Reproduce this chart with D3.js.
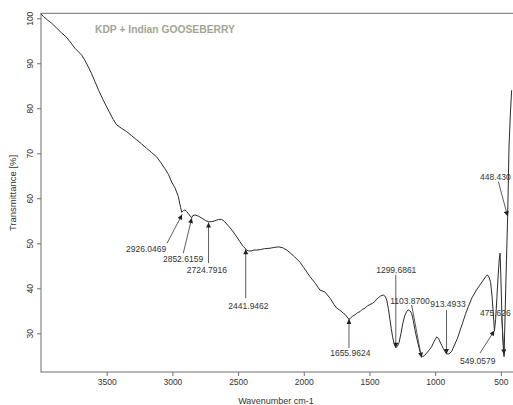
<!DOCTYPE html>
<html>
<head>
<meta charset="utf-8">
<script src="https://cdn.jsdelivr.net/npm/d3@7"></script>
<style>
body { margin: 0; background: #fff; }
svg { display: block; font-family: "Liberation Sans", Arial, sans-serif; }
</style>
</head>
<body>
<div id="chart"></div>
<script>
// spectrum: wavenumber (cm-1) and transmittance (%)
var wavenumber = [4000,3982,3950,3919,3880,3842,3810,3779,3741,3690,3665,3640,3615,3589,3560,3526,3500,3475,3450,3424,3390,3348,3310,3272,3235,3196,3160,3120,3090,3060,3030,3005,2980,2955,2937,2929,2915,2904,2890,2879,2861,2852,2846,2828,2800,2777,2750,2727,2700,2676,2650,2625,2605,2587,2560,2536,2510,2485,2460,2447,2435,2420,2400,2380,2358,2330,2300,2257,2220,2190,2160,2130,2105,2070,2029,2000,1953,1910,1877,1840,1800,1770,1750,1724,1700,1686,1670,1656,1645,1630,1610,1590,1572,1555,1534,1515,1496,1475,1458,1445,1433,1415,1395,1380,1369,1356,1344,1334,1324,1312,1300,1288,1275,1260,1247,1232,1217,1205,1192,1179,1166,1154,1140,1128,1114,1104,1095,1080,1065,1045,1027,1008,989,975,963,950,938,925,913,900,887,874,850,830,811,790,770,748,720,684,660,634,615,603,590,578,568,558,549,540,530,520,512,506,500,492,484,475.6,462,448.4,438,428,418];
var transmittance = [101.0,100.4,99.6,98.9,97.8,96.7,95.9,94.8,93.3,91.8,90.6,89.2,87.7,85.9,83.9,81.8,80.3,78.9,77.5,76.3,75.6,74.8,73.9,73.0,72.1,71.1,70.2,69.2,68.0,66.7,65.3,63.6,62.3,60.4,57.9,56.9,57.3,57.4,57.0,56.6,55.9,55.7,56.1,56.3,56.0,55.6,55.1,54.8,54.8,55.0,55.3,55.3,54.9,54.3,53.4,52.5,51.4,50.3,49.3,48.9,48.5,48.3,48.3,48.5,48.5,48.6,48.8,48.9,49.1,49.2,49.0,48.5,47.9,47.0,45.8,44.6,42.6,41.0,39.6,39.2,37.8,36.4,35.6,35.1,34.5,34.2,33.6,33.1,33.3,33.8,34.1,34.6,34.8,35.3,35.6,36.1,36.4,36.7,37.1,37.6,37.9,38.3,38.5,38.2,37.4,35.5,33.0,31.0,29.2,27.6,26.8,27.1,27.9,30.0,32.1,33.9,34.8,35.2,35.0,34.4,32.8,30.8,28.9,27.4,25.8,24.9,24.8,25.1,25.6,26.3,27.0,28.2,29.2,28.9,28.1,27.3,26.6,25.9,25.4,25.4,25.6,26.0,27.6,28.9,30.6,32.4,34.2,35.9,37.9,39.7,40.7,41.8,42.6,43.0,42.5,41.3,38.5,34.5,30.6,33.0,38.0,43.0,46.5,47.8,42.5,34.0,28.0,24.8,41.0,56.0,71.4,78.5,84.0];

// picked peaks: label, tip, where the text sits and where its pointer starts
var peakLabels = ["2926.0469","2852.6159","2724.7916","2441.9462","1655.9624","1299.6861","1103.8700","913.4933","549.0579","475.626","448.430"];
var peakWave   = [2926.05,2852.62,2724.79,2441.95,1655.96,1299.69,1103.87,913.49,549.06,475.63,448.43];
var peakTrans  = [56.4,55.6,54.6,48.7,33.2,26.8,24.6,25.4,30.6,25.3,56.0];
var labelWave  = [3200,2919,2737,2421,1646,1296,1192,902,676,659,659];
var labelTrans = [48.7,46.5,44.1,36.1,25.6,44.1,37.2,36.4,23.9,34.4,64.8];
var startWave  = [3041,2917,2724.79,2441.95,1655.96,1299.69,1179,913.49,659,494,519];
var startTrans = [50.0,47.8,45.6,37.8,26.7,43.0,36.3,35.2,25.6,33.7,63.7];

var xTicks = [3500,3000,2500,2000,1500,1000,500];
var yTicks = [30,40,50,60,70,80,90,100];

var width = 513, height = 405;
var plotLeft = 41, plotRight = 514, plotTop = 13.3, plotBottom = 372;

var svg = d3.select("#chart").append("svg")
    .attr("width", width)
    .attr("height", height);

var x = d3.scaleLinear().domain([4000, 400]).range([plotLeft, plotRight]);
var y = d3.scaleLinear().domain([21.4, 101.1]).range([plotBottom, plotTop]);

svg.append("defs").append("marker")
    .attr("id", "tip")
    .attr("viewBox", "0 0 10 10")
    .attr("refX", 10).attr("refY", 5)
    .attr("markerWidth", 6).attr("markerHeight", 5)
    .attr("markerUnits", "userSpaceOnUse")
    .attr("orient", "auto")
  .append("path")
    .attr("d", "M0,0L10,5L0,10z")
    .attr("fill", "#222");

// frame (R style box)
svg.append("rect")
    .attr("x", plotLeft).attr("y", plotTop)
    .attr("width", plotRight - plotLeft).attr("height", plotBottom - plotTop)
    .attr("fill", "none").attr("stroke", "#6e6e6e").attr("stroke-width", 1);

// x axis
var xAxis = svg.append("g")
    .attr("transform", "translate(0," + plotBottom + ")")
    .call(d3.axisBottom(x).tickValues(xTicks).tickSize(4).tickPadding(3).tickFormat(d3.format("d")));
xAxis.select(".domain").remove();
xAxis.selectAll("line").attr("stroke", "#6e6e6e");
xAxis.selectAll("text").attr("font-size", "8.5px").attr("fill", "#333").attr("font-family", null);

// y axis with rotated labels
var yAxis = svg.append("g")
    .attr("transform", "translate(" + plotLeft + ",0)")
    .call(d3.axisLeft(y).tickValues(yTicks).tickSize(4).tickFormat(d3.format("d")));
yAxis.select(".domain").remove();
yAxis.selectAll("line").attr("stroke", "#6e6e6e");
yAxis.selectAll("text")
    .attr("font-size", "8.5px").attr("fill", "#333").attr("font-family", null)
    .attr("x", null).attr("dy", null)
    .attr("text-anchor", "middle")
    .attr("dominant-baseline", "central")
    .attr("transform", "translate(-11.5,0) rotate(-90)");

svg.append("text")
    .attr("x", 276).attr("y", 404)
    .attr("text-anchor", "middle")
    .attr("font-size", "9px").attr("fill", "#333")
    .text("Wavenumber cm-1");

svg.append("text")
    .attr("transform", "translate(16,193) rotate(-90)")
    .attr("text-anchor", "middle")
    .attr("font-size", "9.5px").attr("fill", "#333")
    .text("Transmittance [%]");

svg.append("text")
    .attr("x", 95).attr("y", 33)
    .attr("font-size", "10.3px").attr("font-weight", "bold")
    .attr("fill", "#a2a592")
    .text("KDP + Indian GOOSEBERRY");

// spectrum
var line = d3.line()
    .x(function(d, i) { return x(wavenumber[i]); })
    .y(function(d) { return y(d); });

svg.append("path")
    .datum(transmittance)
    .attr("d", line)
    .attr("fill", "none")
    .attr("stroke", "#2b2b2b")
    .attr("stroke-width", 1)
    .attr("stroke-linejoin", "round");

// peak pointers
svg.selectAll("line.peak")
    .data(peakLabels)
  .enter().append("line")
    .attr("class", "peak")
    .attr("x1", function(d, i) { return x(startWave[i]); })
    .attr("y1", function(d, i) { return y(startTrans[i]); })
    .attr("x2", function(d, i) { return x(peakWave[i]); })
    .attr("y2", function(d, i) { return y(peakTrans[i]); })
    .attr("stroke", "#333")
    .attr("stroke-width", 0.8)
    .attr("marker-end", "url(#tip)");

svg.selectAll("text.peak")
    .data(peakLabels)
  .enter().append("text")
    .attr("class", "peak")
    .attr("x", function(d, i) { return x(labelWave[i]); })
    .attr("y", function(d, i) { return y(labelTrans[i]); })
    .attr("text-anchor", function(d, i) { return i >= 9 ? "start" : "middle"; })
    .attr("dominant-baseline", "central")
    .attr("font-size", "8.5px")
    .attr("fill", "#333")
    .text(function(d) { return d; });
</script>
</body>
</html>
